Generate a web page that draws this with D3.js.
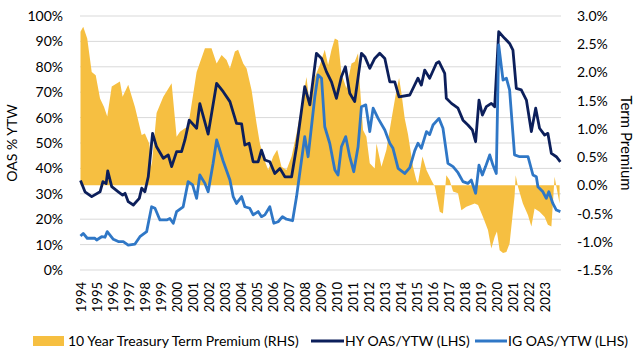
<!DOCTYPE html>
<html>
<head>
<meta charset="utf-8">
<script src="https://cdn.jsdelivr.net/npm/d3@7"></script>
<style>
  body { margin: 0; background: #fff; }
  text { font-family: Lato, "Open Sans", sans-serif; fill: #000; }
</style>
</head>
<body>
<script>
// tick labels
const years = d3.range(1994, 2024);
const leftTicks = d3.range(0, 101, 10);
const rightTicks = [3.0, 2.5, 2.0, 1.5, 1.0, 0.5, 0.0, -0.5, -1.0, -1.5];

// HY OAS/YTW (LHS), [decimal year, %]
const hySeries = [
  [1994.0, 35.2], [1994.28, 30.8], [1994.7, 28.9], [1995.22, 30.8], [1995.4, 34.8],
  [1995.6, 34], [1995.7, 39], [1995.95, 32.8], [1996.36, 30.8], [1996.63, 29.5],
  [1996.78, 30.2], [1996.98, 26.9], [1997.3, 25.6], [1997.67, 28.2], [1997.82, 32.2],
  [1998.02, 30.8], [1998.23, 36.7], [1998.5, 53.8], [1998.75, 48.5], [1999.17, 44],
  [1999.48, 45.3], [1999.69, 40.7], [2000.0, 46.6], [2000.31, 46.6], [2000.52, 51.2],
  [2000.79, 59], [2001.25, 55.8], [2001.45, 65.5], [2001.97, 53.5], [2002.5, 73.5],
  [2002.91, 70.2], [2003.33, 66.3], [2003.74, 57.7], [2004.06, 57.5], [2004.26, 49.2],
  [2004.53, 49.9], [2004.78, 42.6], [2005.09, 42.6], [2005.3, 47.2], [2005.51, 43.3],
  [2005.82, 42.6], [2006.13, 38], [2006.45, 40], [2006.76, 36.7], [2007.18, 36.7],
  [2007.49, 48.5], [2008.0, 72.2], [2008.32, 65], [2008.73, 85.3], [2009.05, 83.3],
  [2009.36, 78], [2009.67, 74.1], [2009.98, 67.6], [2010.29, 76.1], [2010.54, 80],
  [2010.81, 69.6], [2011.12, 66.3], [2011.54, 85.3], [2011.75, 84], [2012.06, 79.4],
  [2012.37, 83.3], [2012.68, 85.3], [2013.0, 83.3], [2013.31, 74.1], [2013.62, 74.1],
  [2013.89, 68.2], [2014.56, 68.9], [2015.07, 75.5], [2015.28, 72.8], [2015.49, 78.7],
  [2015.8, 75.5], [2016.22, 81.4], [2016.38, 82], [2016.74, 77.4], [2016.84, 67.6],
  [2017.16, 65.6], [2017.57, 63.7], [2017.88, 59], [2018.19, 57.1], [2018.47, 55.1],
  [2018.67, 50.5], [2018.88, 66.9], [2019.09, 61], [2019.34, 64.3], [2019.65, 65.6],
  [2019.86, 64.3], [2020.11, 93.8], [2020.48, 91.2], [2020.79, 89.2], [2021.0, 86.6],
  [2021.21, 71.5], [2021.52, 70.9], [2021.84, 66.9], [2022.15, 54.5], [2022.42, 63.7],
  [2022.66, 55.8], [2022.98, 53.1], [2023.18, 53.8], [2023.4, 45.9], [2023.71, 44.6],
  [2023.96, 42.6]
];

// IG OAS/YTW (LHS), [decimal year, %]
const igSeries = [
  [1994.0, 13.4], [1994.17, 14.4], [1994.42, 12.5], [1994.9, 12.5], [1995.01, 11.8],
  [1995.32, 13.1], [1995.53, 12.9], [1995.67, 15.1], [1996.05, 12.1], [1996.36, 11.2],
  [1996.67, 11.2], [1996.98, 9.8], [1997.4, 10.2], [1997.71, 13.1], [1998.13, 15.1],
  [1998.44, 24.9], [1998.65, 24.3], [1998.96, 19.7], [1999.38, 19.7], [1999.58, 20.3],
  [1999.79, 18.4], [2000.0, 23], [2000.41, 24.9], [2000.72, 34.8], [2001.0, 33.5],
  [2001.25, 28.2], [2001.45, 37.4], [2001.77, 34.1], [2001.97, 30.8], [2002.28, 42],
  [2002.5, 51.2], [2002.9, 43], [2003.33, 35.4], [2003.53, 28.9], [2003.74, 26.2],
  [2004.06, 28.9], [2004.26, 24.9], [2004.57, 24.3], [2004.78, 21.7], [2005.09, 23],
  [2005.3, 21], [2005.51, 21.7], [2005.82, 24.9], [2006.07, 18.4], [2006.34, 19],
  [2006.61, 21], [2006.86, 20], [2007.24, 19.4], [2007.49, 28.9], [2007.8, 43.3],
  [2008.0, 52.5], [2008.21, 44.6], [2008.63, 68.2], [2008.83, 76.8], [2009.05, 75.5],
  [2009.25, 56.4], [2009.56, 49.9], [2009.88, 39.4], [2010.08, 37.4], [2010.29, 48.5],
  [2010.56, 52.5], [2010.81, 44.6], [2011.06, 38.7], [2011.33, 48.5], [2011.54, 64.3],
  [2011.81, 65], [2012.06, 54.5], [2012.27, 63.7], [2012.58, 59.7], [2013.0, 55.1],
  [2013.31, 49.9], [2013.51, 47.9], [2013.83, 40], [2014.24, 38], [2014.56, 40.3],
  [2014.87, 47], [2015.07, 49.9], [2015.28, 47.9], [2015.6, 54.5], [2015.8, 53.3],
  [2016.01, 57.1], [2016.38, 59.7], [2016.63, 55.8], [2016.94, 42], [2017.26, 40.7],
  [2017.57, 38.3], [2017.88, 34.8], [2018.19, 34.1], [2018.4, 35.4], [2018.67, 30.2],
  [2018.88, 41.3], [2019.09, 37.4], [2019.29, 40.7], [2019.55, 45.3], [2019.75, 41.3],
  [2019.96, 38], [2020.11, 88.6], [2020.38, 74.8], [2020.59, 75.5], [2020.79, 70.9],
  [2021.1, 45.3], [2021.42, 44.6], [2021.94, 44.6], [2022.25, 37.4], [2022.46, 36.7],
  [2022.56, 32.8], [2022.87, 30.8], [2023.08, 28.2], [2023.24, 30.8], [2023.49, 26.2],
  [2023.71, 23.6], [2023.96, 23]
];

// 10 Year Treasury Term Premium (RHS), [decimal year, %]
const tpSeries = [
  [1994.0, 2.72], [1994.17, 2.81], [1994.42, 2.6], [1994.7, 2.01], [1994.95, 1.95],
  [1995.22, 1.54], [1995.47, 1.39], [1995.67, 1.22], [1995.95, 1.75], [1996.46, 1.84],
  [1996.63, 1.57], [1996.98, 1.78], [1997.4, 1.39], [1997.82, 0.89], [1998.02, 0.92],
  [1998.29, 0.74], [1998.44, 0.33], [1998.75, 1.28], [1999.17, 1.57], [1999.69, 1.81],
  [2000.0, 0.86], [2000.21, 0.95], [2000.52, 1.01], [2000.72, 1.04], [2001.25, 2.01],
  [2001.77, 2.43], [2002.18, 2.43], [2002.5, 2.16], [2002.81, 2.31], [2003.12, 2.22],
  [2003.33, 2.07], [2003.64, 2.37], [2003.84, 2.4], [2004.16, 2.16], [2004.37, 2.07],
  [2004.68, 1.69], [2004.99, 1.1], [2005.2, 0.74], [2005.4, 0.51], [2005.72, 0.27],
  [2006.03, 0.51], [2006.28, 0.63], [2006.55, 0.33], [2006.86, 0.27], [2007.18, 0.51],
  [2007.49, 0.92], [2007.9, 1.57], [2008.11, 1.92], [2008.32, 1.39], [2008.52, 1.84],
  [2008.94, 2.13], [2009.25, 2.4], [2009.46, 2.13], [2009.67, 2.4], [2009.88, 2.6],
  [2010.08, 2.57], [2010.29, 1.98], [2010.6, 1.72], [2010.92, 2.16], [2011.12, 2.19],
  [2011.33, 2.34], [2011.44, 1.78], [2011.64, 0.98], [2011.85, 0.86], [2012.06, 0.39],
  [2012.37, 0.3], [2012.48, 0.74], [2012.79, 0.33], [2013.1, 0.63], [2013.41, 1.16],
  [2013.73, 1.69], [2013.89, 1.9], [2014.04, 1.63], [2014.24, 1.19], [2014.45, 0.9],
  [2014.76, 0.33], [2014.97, 0.09], [2015.07, 0.04], [2015.35, 0.51], [2015.6, 0.27],
  [2015.91, 0.09], [2016.12, -0.02], [2016.43, -0.47], [2016.63, -0.5], [2016.84, 0.18],
  [2017.05, 0.09], [2017.26, -0.11], [2017.57, -0.14], [2017.78, -0.44], [2018.09, -0.38],
  [2018.61, -0.32], [2018.82, -0.35], [2019.13, -0.56], [2019.44, -0.79], [2019.65, -1.12],
  [2019.86, -0.91], [2020.0, -0.82], [2020.17, -1.15], [2020.38, -1.2], [2020.59, -1.18],
  [2020.79, -1.03], [2021.1, -0.2], [2021.17, 0.18], [2021.31, -0.02], [2021.62, -0.32],
  [2021.94, -0.53], [2022.15, -0.73], [2022.35, -0.41], [2022.66, -0.47], [2022.98, -0.56],
  [2023.18, -0.7], [2023.4, -0.73], [2023.6, 0.15], [2023.71, -0.02], [2023.91, -0.32]
];

const width = 640;
const height = 352;
const margin = { top: 16, right: 79, bottom: 82, left: 80 };

const colors = { tp: '#f6bf41', hy: '#0c1f5b', ig: '#2f77c6', grid: '#d9d9d9' };

const xScale = d3.scaleLinear()
  .domain([1994, 2024])
  .range([margin.left + 0.5, width - margin.right]);

const yLeft = d3.scaleLinear()
  .domain([0, 100])
  .range([height - margin.bottom, margin.top]);

const yRight = d3.scaleLinear()
  .domain([-1.5, 3.0])
  .range([height - margin.bottom, margin.top]);

const svg = d3.select('body')
  .append('svg')
  .attr('width', width)
  .attr('height', height);

// gridlines
svg.append('g')
  .selectAll('line')
  .data(leftTicks)
  .join('line')
  .attr('x1', margin.left)
  .attr('x2', width - margin.right)
  .attr('y1', d => yLeft(d))
  .attr('y2', d => yLeft(d))
  .attr('stroke', colors.grid)
  .attr('stroke-width', 1);

// term premium area
const area = d3.area()
  .x(d => xScale(d[0]))
  .y0(yRight(0))
  .y1(d => yRight(d[1]));

svg.append('path')
  .datum(tpSeries)
  .attr('d', area)
  .attr('fill', colors.tp);

// spread lines
const line = d3.line()
  .x(d => xScale(d[0]))
  .y(d => yLeft(d[1]));

svg.append('path')
  .datum(hySeries)
  .attr('d', line)
  .attr('fill', 'none')
  .attr('stroke', colors.hy)
  .attr('stroke-width', 2.8)
  .attr('stroke-linejoin', 'round');

svg.append('path')
  .datum(igSeries)
  .attr('d', line)
  .attr('fill', 'none')
  .attr('stroke', colors.ig)
  .attr('stroke-width', 2.8)
  .attr('stroke-linejoin', 'round');

// left axis
const leftAxis = svg.append('g')
  .attr('transform', `translate(${margin.left},0)`)
  .call(d3.axisLeft(yLeft).tickValues(leftTicks).tickSize(0).tickPadding(17).tickFormat(d => d + '%'));
leftAxis.select('.domain').remove();
leftAxis.selectAll('text').style('font-size', '14px').style('font-family', 'Lato, sans-serif').attr('fill', '#000');

// right axis
const rightAxis = svg.append('g')
  .attr('transform', `translate(${width - margin.right},0)`)
  .call(d3.axisRight(yRight).tickValues(rightTicks).tickSize(0).tickPadding(16).tickFormat(d3.format('.1%')).tickFormat(d => d.toFixed(1) + '%'));
rightAxis.select('.domain').remove();
rightAxis.selectAll('text').style('font-size', '14px').style('font-family', 'Lato, sans-serif').attr('fill', '#000');

// x axis, rotated year labels
const xAxis = svg.append('g')
  .attr('transform', `translate(0,${height - margin.bottom})`)
  .call(d3.axisBottom(xScale).tickValues(years).tickSize(0).tickFormat(d3.format('d')));
xAxis.select('.domain').remove();
xAxis.selectAll('text')
  .attr('transform', 'translate(0,12) rotate(-90)')
  .attr('x', 0)
  .attr('y', 0)
  .attr('dy', '0.35em')
  .style('text-anchor', 'end')
  .style('font-size', '13px')
  .style('font-family', 'Lato, sans-serif')
  .attr('fill', '#000');

// axis titles
const midY = (margin.top + height - margin.bottom) / 2;
svg.append('text')
  .attr('transform', `translate(12,${midY}) rotate(-90)`)
  .attr('text-anchor', 'middle')
  .attr('dy', '0.35em')
  .style('font-size', '14px')
  .text('OAS % YTW');

svg.append('text')
  .attr('transform', `translate(626,${midY}) rotate(90)`)
  .attr('text-anchor', 'middle')
  .attr('dy', '0.35em')
  .style('font-size', '15px')
  .text('Term Premium');

// legend
const legendY = 341;
const legend = svg.append('g').style('font-size', '14px');

legend.append('rect')
  .attr('x', 33).attr('y', legendY - 5)
  .attr('width', 31).attr('height', 10)
  .attr('fill', colors.tp);
legend.append('text')
  .attr('x', 68).attr('y', legendY).attr('dy', '0.35em')
  .text('10 Year Treasury Term Premium (RHS)');

legend.append('line')
  .attr('x1', 311).attr('x2', 344)
  .attr('y1', legendY).attr('y2', legendY)
  .attr('stroke', colors.hy).attr('stroke-width', 3);
legend.append('text')
  .attr('x', 345).attr('y', legendY).attr('dy', '0.35em')
  .text('HY OAS/YTW (LHS)');

legend.append('line')
  .attr('x1', 475).attr('x2', 507)
  .attr('y1', legendY).attr('y2', legendY)
  .attr('stroke', colors.ig).attr('stroke-width', 3);
legend.append('text')
  .attr('x', 508).attr('y', legendY).attr('dy', '0.35em')
  .text('IG OAS/YTW (LHS)');
</script>
</body>
</html>
